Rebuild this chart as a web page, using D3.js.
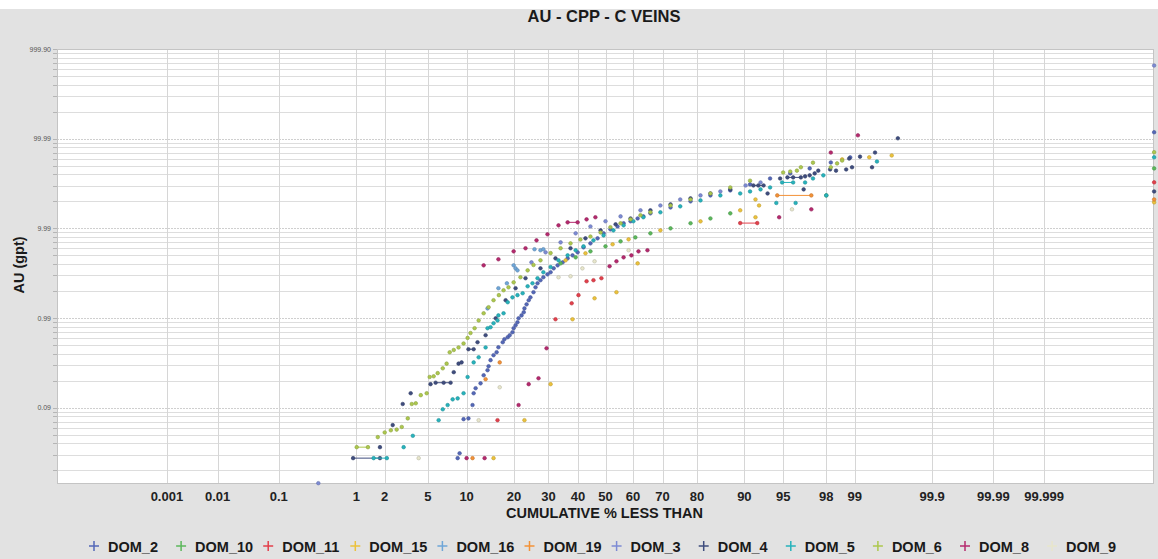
<!DOCTYPE html>
<html lang="en">
<head>
<meta charset="utf-8">
<title>AU - CPP - C VEINS</title>
<script src="https://d3js.org/d3.v7.min.js"></script>
<style>
  body { margin: 0; background: #fff; }
  svg { display: block; font-family: "Liberation Sans", Arial, sans-serif; }
</style>
</head>
<body>
<svg width="1158" height="559"></svg>
<script>
// cumulative % less than, AU (gpt)
const dom2 = [[8.61,0.0274],[8.9,0.031],[9.51,0.0745],[10.3,0.076],[11.0,0.107],[11.2,0.145],[11.55,0.165],[12.47,0.187],[13.07,0.23],[13.85,0.262],[14.07,0.29],[14.48,0.339],[15.12,0.385],[15.8,0.416],[16.2,0.472],[17.2,0.537],[17.6,0.58],[18.4,0.611],[18.9,0.643],[19.6,0.695],[19.9,0.77],[20.4,0.83],[20.9,0.897],[21.2,0.994],[22.0,1.07],[22.6,1.16],[22.8,1.28],[23.4,1.42],[24.0,1.58],[24.5,1.70],[25.4,1.94],[26.0,2.2],[26.6,2.44],[27.5,2.64],[28.4,2.85],[29.7,3.07],[30.7,3.24],[31.7,3.58],[33.0,3.87],[34.7,4.18],[36.4,4.63],[38.1,5.0],[39.9,5.4],[42.0,6.14],[44.5,6.8],[47.1,7.74],[49.3,8.8],[51.8,9.75],[54.4,10.5],[56.6,11.4],[59.1,12.0],[61.6,12.9],[63.6,13.6],[66.0,14.7],[72.5,17.1],[78.3,20.0],[83.3,23.3],[87.5,26.5],[90.9,30.9],[93.6,36],[95.65,41],[97.1,46.6],[98.2,54.3],[98.88,61.8],[100,118]];
const dom10 = [[34.0,4.07],[39.2,4.75],[44.5,5.54],[50.0,6.3],[55.5,7.16],[60.8,7.93],[66.0,8.8],[72.5,10.0],[78.3,11.4],[83.3,12.9],[87.5,14.7],[98.0,23.3],[100,46.6]];
const dom11 = [[16.0,0.0726],[32.3,0.969],[37.8,1.46],[40.2,1.80],[43.1,2.57],[45.6,2.64],[48.5,2.78],[89.3,11.45],[91.95,11.45],[100,32.6]];
const dom15 = [[15.12,0.0274],[22.8,0.0726],[30.7,0.183],[35.7,4.4],[38.1,0.969],[42.7,5.27],[46.0,1.66],[52.6,6.64],[54.0,1.94],[58.4,7.54],[61.6,4.07],[69.3,9.5],[80.9,11.97],[89.3,15.9],[91.7,21],[91.7,13.3],[92.2,18.0],[98.63,58.8],[99.32,62],[99.64,65],[100,19.5]];
const dom16 = [[13.85,1.28],[16.2,2.15],[18.2,2.44],[19.9,3.87],[20.4,3.58],[20.9,3.4],[25.7,5.85],[27.5,5.7],[28.4,5.85]];
const dom19 = [[11.0,0.0274],[13.46,0.208],[16.5,0.32],[94.4,23.3],[97.2,23.3],[100,21]];
const dom3 = [[0.35,0.0144],[24.8,4.18],[29.1,5.4],[34.0,6.98],[39.2,8.8],[44.5,10.5],[50.0,12.0],[55.5,13.6],[62.6,15.9],[69.3,18.0],[75.4,21.0],[80.9,23.3],[85.5,25.8],[90.2,30.1],[92.4,32.5],[100,654]];
const dom4 = [[0.92,0.0274],[1.79,0.0274],[1.79,0.0363],[2.40,0.064],[2.99,0.110],[3.54,0.145],[5.27,0.183],[5.80,0.19],[6.73,0.19],[7.62,0.19],[8.05,0.249],[8.74,0.31],[9.2,0.32],[10.3,0.449],[11.2,0.449],[11.9,0.537],[13.46,0.643],[15.6,0.994],[17.9,1.58],[20.4,2.15],[23.1,2.78],[27.5,3.58],[32.3,4.63],[37.4,6.0],[42.7,7.74],[48.2,9.5],[53.7,11.1],[59.1,12.9],[66.0,15.9],[72.5,18.5],[78.3,21.6],[83.3,24.5],[87.5,27.2],[91.4,30.1],[92.1,30.1],[92.8,30.1],[93.3,24.5],[94.7,36],[95.4,37],[95.9,37],[96.5,37],[96.7,27.2],[96.8,38],[97.1,39],[97.4,41],[97.6,44],[98.17,45.4],[98.41,44],[98.76,45.4],[98.85,60],[98.93,48],[99.13,63],[99.37,48],[99.42,70],[99.70,101],[100,25.8]];
const dom5 = [[1.54,0.0274],[2.10,0.0274],[3.05,0.0363],[3.7,0.0486],[6.14,0.0726],[6.62,0.096],[7.23,0.107],[7.9,0.124],[8.61,0.127],[9.51,0.145],[10.16,0.22],[11.2,0.32],[12.11,0.365],[13.46,0.47],[13.85,0.77],[14.48,0.79],[15.12,0.875],[16.0,0.94],[16.2,1.07],[17.4,1.13],[18.4,1.50],[19.6,1.70],[20.9,1.80],[22.3,1.89],[23.7,2.26],[25.1,2.44],[26.6,2.78],[28.4,3.24],[30.7,3.7],[33.3,4.4],[36.4,5.0],[39.2,5.7],[42.0,6.3],[45.6,7.35],[49.3,8.35],[52.9,9.5],[56.6,10.8],[60.1,12.0],[63.6,13.3],[69.3,15.1],[75.4,17.6],[80.9,20.5],[85.5,23.3],[89.3,24.5],[90.9,25.8],[92.4,27.2],[93.6,28.6],[94.3,19.2],[94.9,32.5],[95.9,32.5],[96.1,19.2],[96.8,32.5],[97.3,36],[97.86,39],[98.0,23.3],[99.45,55.6],[100,62]];
const dom6 = [[1.01,0.0363],[1.34,0.0363],[1.70,0.047],[2.0,0.053],[2.30,0.056],[2.62,0.057],[2.93,0.061],[3.33,0.076],[3.62,0.110],[3.93,0.112],[4.35,0.138],[4.89,0.145],[5.18,0.22],[5.59,0.224],[6.03,0.243],[6.62,0.275],[7.10,0.31],[7.5,0.415],[8.05,0.44],[8.74,0.47],[9.51,0.52],[10.16,0.60],[10.65,0.68],[11.37,0.77],[12.11,0.94],[13.07,1.13],[14.07,1.32],[15.12,1.58],[16.3,1.80],[17.4,2.04],[18.6,2.2],[19.9,2.5],[21.7,2.85],[23.7,3.4],[25.4,3.9],[27.5,4.4],[30.7,5.3],[34.0,6.0],[37.4,6.8],[40.9,7.5],[44.5,8.1],[48.2,9.0],[51.8,10.3],[55.5,11.4],[59.1,12.6],[62.6,14.0],[66.0,15.1],[72.5,18.0],[78.3,21],[83.3,24.5],[87.5,28.6],[90.9,34],[95.0,42],[95.65,43],[96.2,44],[96.5,48],[97.3,54],[98.2,48],[98.45,53],[98.63,57],[100,70.7]];
const dom8 = [[10.0,0.0274],[13.07,3.87],[13.26,0.0274],[16.2,4.52],[19.9,5.54],[21.2,0.107],[23.1,6.0],[24.0,0.183],[26.3,7.35],[26.9,0.213],[29.4,0.46],[29.7,8.58],[33.3,10.8],[36.4,11.67],[39.9,11.67],[43.1,12.6],[46.3,13.3],[51.5,3.78],[54.0,4.29],[56.6,4.75],[59.4,5.0],[61.9,5.54],[65.0,5.7],[94.6,13.3],[97.2,16.3],[98.2,70],[99.08,109]];
const dom9 = [[4.17,0.0274],[12.11,0.0726],[16.5,0.169],[33.3,2.85],[37.4,2.92],[41.6,3.58],[46.0,4.29],[58.4,5.7],[95.8,16.3]];

const seriesNames = ['DOM_2','DOM_10','DOM_11','DOM_15','DOM_16','DOM_19','DOM_3','DOM_4','DOM_5','DOM_6','DOM_8','DOM_9'];
const seriesData = [dom2, dom10, dom11, dom15, dom16, dom19, dom3, dom4, dom5, dom6, dom8, dom9];
const seriesColors = ['#5468b8','#5cb85c','#e3404c','#ecc23c','#6fa6d8','#f39238','#7d8bd4','#3f4d7e','#27b3bc','#adc84e','#b52a6e','#e8e6cc'];

const xTickVals = [0.001,0.01,0.1,1,2,5,10,20,30,40,50,60,70,80,90,95,98,99,99.9,99.99,99.999];
const xTickLabels = ['0.001','0.01','0.1','1','2','5','10','20','30','40','50','60','70','80','90','95','98','99','99.9','99.99','99.999'];
const yTickVals = [0.1,1,10,100,1000];
const yTickLabels = ['0.09','0.99','9.99','99.99','999.90'];

// inverse normal cdf (Acklam)
function probit(p) {
  const a=[-39.69683028665376,220.9460984245205,-275.9285104469687,138.3577518672690,-30.66479806614716,2.506628277459239];
  const b=[-54.47609879822406,161.5858368580409,-155.6989798598866,66.80131188771972,-13.28068155288572];
  const c=[-0.007784894002430293,-0.3223964580411365,-2.400758277161838,-2.549732539343734,4.374664141464968,2.938163982698783];
  const d=[0.007784695709041462,0.3224671290700398,2.445134137142996,3.754408661907416];
  let q, r;
  if (p < 0.02425) {
    q = Math.sqrt(-2*Math.log(p));
    return (((((c[0]*q+c[1])*q+c[2])*q+c[3])*q+c[4])*q+c[5])/((((d[0]*q+d[1])*q+d[2])*q+d[3])*q+1);
  }
  if (p <= 1-0.02425) {
    q = p-0.5; r = q*q;
    return (((((a[0]*r+a[1])*r+a[2])*r+a[3])*r+a[4])*r+a[5])*q/(((((b[0]*r+b[1])*r+b[2])*r+b[3])*r+b[4])*r+1);
  }
  q = Math.sqrt(-2*Math.log(1-p));
  return -(((((c[0]*q+c[1])*q+c[2])*q+c[3])*q+c[4])*q+c[5])/((((d[0]*q+d[1])*q+d[2])*q+d[3])*q+1);
}
// the axis is a little squeezed toward the tails
function warp(z) { return z - 0.003068*z*z*z; }

const W = 1158, H = 559;
const plot = {left: 57, right: 1154, top: 49, bottom: 484};

const xw = d3.scaleLinear().domain([-5.036, 5.036]).range([plot.left, plot.right]);
function xPos(pct) {
  const p = Math.min(Math.max(pct/100, 1.3e-8), 1-1.3e-8);
  return xw(warp(probit(p)));
}
const y = d3.scaleLog().domain([0.0141, 1000]).range([plot.bottom, plot.top]);

const svg = d3.select('svg');

svg.append('rect').attr('width', W).attr('height', H).attr('fill', '#e2e2e2');
svg.append('rect').attr('width', W).attr('height', 9).attr('fill', '#ffffff');

svg.append('rect')
  .attr('x', plot.left).attr('y', plot.top)
  .attr('width', plot.right-plot.left).attr('height', plot.bottom-plot.top)
  .attr('fill', '#ffffff');

// horizontal grid on every log step
const hLines = [];
[0.01,0.1,1,10,100].forEach(dec => {
  for (let m = 1; m <= 9; m++) {
    const v = dec*m;
    if (v >= 0.0141 && v <= 1000) hLines.push({v: v, major: m === 1});
  }
});
hLines.push({v: 1000, major: true});

const grid = svg.append('g');
grid.selectAll('line.h')
  .data(hLines)
  .enter()
  .append('line')
  .attr('x1', plot.left).attr('x2', plot.right)
  .attr('y1', d => Math.round(y(d.v))+0.5).attr('y2', d => Math.round(y(d.v))+0.5)
  .attr('stroke', d => d.major ? '#cfcfcf' : '#dddddd')
  .attr('stroke-dasharray', d => d.major ? '2,1' : null);

grid.selectAll('line.t')
  .data(hLines)
  .enter()
  .append('line')
  .attr('x1', plot.left-4).attr('x2', plot.left)
  .attr('y1', d => Math.round(y(d.v))+0.5).attr('y2', d => Math.round(y(d.v))+0.5)
  .attr('stroke', '#b5b5b5');

grid.selectAll('line.v')
  .data(xTickVals)
  .enter()
  .append('line')
  .attr('x1', d => Math.round(xPos(d))+0.5).attr('x2', d => Math.round(xPos(d))+0.5)
  .attr('y1', plot.top).attr('y2', plot.bottom)
  .attr('stroke', '#d6d6d6');

svg.append('rect')
  .attr('x', plot.left+0.5).attr('y', plot.top+0.5)
  .attr('width', plot.right-plot.left-1).attr('height', plot.bottom-plot.top-1)
  .attr('fill', 'none').attr('stroke', '#c4c4c4');

// y tick labels
svg.append('g').selectAll('text')
  .data(yTickVals)
  .enter()
  .append('text')
  .attr('x', 51)
  .attr('y', d => y(d)+2.5)
  .attr('text-anchor', 'end')
  .style('font-size', '7px')
  .style('fill', '#555')
  .text((d, i) => yTickLabels[i]);

// x tick labels
svg.append('g').selectAll('text')
  .data(xTickVals)
  .enter()
  .append('text')
  .attr('x', d => xPos(d))
  .attr('y', 501)
  .attr('text-anchor', 'middle')
  .style('font-size', '13px')
  .style('font-weight', 'bold')
  .style('fill', '#222')
  .text((d, i) => xTickLabels[i]);

svg.append('text')
  .attr('x', 604.5).attr('y', 518)
  .attr('text-anchor', 'middle')
  .style('font-size', '14.5px').style('font-weight', 'bold').style('fill', '#1a1a1a')
  .text('CUMULATIVE % LESS THAN');

svg.append('text')
  .attr('transform', 'translate(23.5,265) rotate(-90)')
  .attr('text-anchor', 'middle')
  .style('font-size', '14.5px').style('font-weight', 'bold').style('fill', '#1a1a1a')
  .text('AU (gpt)');

svg.append('text')
  .attr('x', 604).attr('y', 21.5)
  .attr('text-anchor', 'middle')
  .style('font-size', '16.5px').style('font-weight', 'bold').style('fill', '#1a1a1a')
  .text('AU - CPP - C VEINS');

// points, with a short line where neighbouring values tie
const marks = svg.append('g');
seriesData.forEach((data, si) => {
  const col = seriesColors[si];
  const sorted = data.slice().sort((a, b) => a[0]-b[0]);
  const ties = [];
  for (let i = 1; i < sorted.length; i++) {
    if (sorted[i][1] === sorted[i-1][1]) ties.push([sorted[i-1], sorted[i]]);
  }
  marks.append('g').selectAll('line')
    .data(ties)
    .enter()
    .append('line')
    .attr('x1', d => xPos(d[0][0])).attr('y1', d => y(d[0][1]))
    .attr('x2', d => xPos(d[1][0])).attr('y2', d => y(d[1][1]))
    .attr('stroke', col).attr('stroke-width', 1);
  marks.append('g').selectAll('circle')
    .data(sorted)
    .enter()
    .append('circle')
    .attr('cx', d => xPos(d[0]))
    .attr('cy', d => y(d[1]))
    .attr('r', 1.8)
    .attr('fill', col)
    .attr('stroke', d3.color(col).darker(0.6))
    .attr('stroke-width', 0.6);
});

// legend, fixed slots
const legend = svg.append('g');
seriesNames.forEach((name, i) => {
  const cx = 94 + i*87.1, cy = 546;
  legend.append('path')
    .attr('d', 'M' + (cx-5) + ',' + cy + 'H' + (cx+5) + 'M' + cx + ',' + (cy-5) + 'V' + (cy+5))
    .attr('stroke', seriesColors[i]).attr('stroke-width', 1.5);
  legend.append('text')
    .attr('x', cx+14).attr('y', 551.5)
    .style('font-size', '14.5px').style('font-weight', 'bold').style('fill', '#1a1a1a')
    .text(name);
});
</script>
</body>
</html>
